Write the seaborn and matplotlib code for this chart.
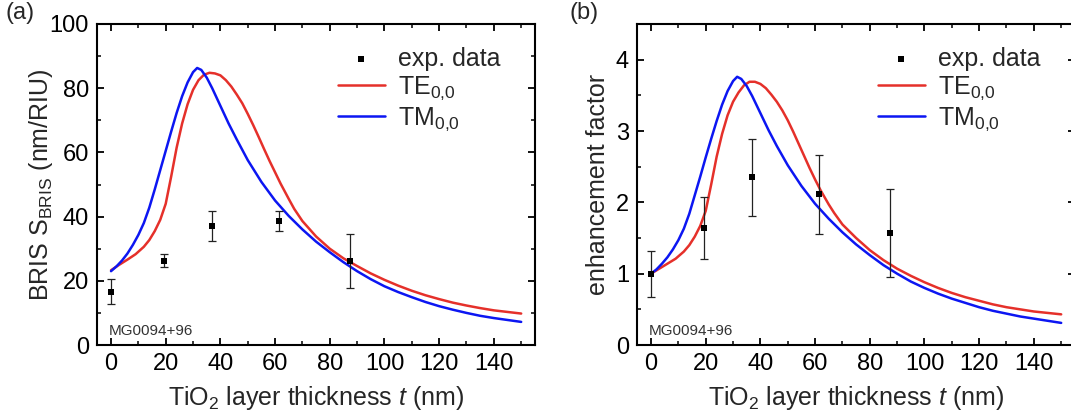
import numpy as np
import pandas as pd
import matplotlib
matplotlib.use("Agg")
import matplotlib.pyplot as plt
from matplotlib.ticker import MultipleLocator
import seaborn as sns

# ---------------- data ----------------
exp_t = [0, 19.5, 37, 61.6, 87.4]
exp_S = [16.6, 26.3, 37.1, 38.7, 26.2]
exp_S_err = [3.9, 2.1, 4.8, 3.2, 8.5]
exp_E = [1.0, 1.64, 2.35, 2.11, 1.57]
exp_E_err = [0.32, 0.43, 0.54, 0.55, 0.61]

te_t = [0, 3, 6, 9, 12, 14, 16, 18, 20, 22, 24, 26, 28, 30, 32, 34, 36, 38, 40, 42, 44, 46,
        48, 50, 52, 54, 56, 58, 60, 62, 65, 67, 70, 75, 80, 85, 90, 95, 100, 105, 110, 115,
        120, 125, 130, 135, 140, 145, 150]
te_S = [23.3, 25.0, 26.6, 28.3, 30.6, 32.7, 35.5, 39.0, 44.0, 52.5, 61.5, 69.0, 75.0, 79.5,
        82.5, 84.2, 84.8, 84.6, 84.0, 82.5, 80.5, 78.0, 75.3, 72.0, 68.5, 64.8, 61.0, 57.3,
        53.8, 50.3, 45.5, 42.4, 38.6, 33.8, 30.0, 27.0, 24.6, 22.3, 20.3, 18.5, 16.9, 15.5,
        14.3, 13.2, 12.3, 11.5, 10.8, 10.3, 9.8]
te_E = [1.0, 1.07, 1.14, 1.21, 1.31, 1.40, 1.52, 1.67, 1.88, 2.25, 2.64, 2.96, 3.22, 3.41,
        3.54, 3.64, 3.69, 3.69, 3.66, 3.60, 3.51, 3.41, 3.29, 3.15, 2.99, 2.82, 2.65, 2.48,
        2.32, 2.17, 1.97, 1.85, 1.69, 1.50, 1.33, 1.19, 1.07, 0.97, 0.88, 0.80, 0.73, 0.67,
        0.62, 0.57, 0.53, 0.50, 0.47, 0.45, 0.43]

tm_t = [0, 2, 4, 6, 8, 10, 12, 14, 16, 18, 20, 22, 24, 26, 28, 30, 31.5, 33, 35, 37, 40, 43,
        46, 50, 55, 60, 65, 70, 75, 80, 85, 90, 95, 100, 105, 110, 115, 120, 125, 130,
        135, 140, 145, 150]
tm_S = [23.0, 24.5, 26.3, 28.5, 31.2, 34.3, 38.0, 42.8, 48.5, 54.5, 60.5, 66.5, 72.3, 77.5,
        81.8, 85.0, 86.3, 85.7, 83.3, 80.0, 74.5, 69.0, 64.0, 57.6, 50.8, 45.0, 40.2, 36.0,
        32.2, 28.9, 25.8, 23.0, 20.5, 18.3, 16.5, 14.9, 13.4, 12.1, 11.0, 10.0, 9.1, 8.4,
        7.8, 7.2]
tm_E = [1.0, 1.06, 1.14, 1.23, 1.34, 1.47, 1.63, 1.84, 2.10, 2.36, 2.63, 2.89, 3.14, 3.37,
        3.56, 3.70, 3.76, 3.73, 3.63, 3.49, 3.25, 3.01, 2.79, 2.52, 2.23, 1.98, 1.77, 1.58,
        1.41, 1.26, 1.12, 1.0, 0.89, 0.80, 0.72, 0.65, 0.59, 0.53, 0.48, 0.44, 0.40, 0.37,
        0.34, 0.31]

xticks = [0, 20, 40, 60, 80, 100, 120, 140]

# ---------------- style ----------------
sns.set_theme(style="ticks")
plt.rcParams["font.family"] = ["Liberation Sans", "DejaVu Sans"]
plt.rcParams["mathtext.fontset"] = "custom"
plt.rcParams["mathtext.rm"] = "Liberation Sans"
plt.rcParams["mathtext.it"] = "Liberation Sans:italic"
plt.rcParams["mathtext.bf"] = "Liberation Sans:bold"

fig = plt.figure(figsize=(10.71, 4.18), dpi=100)
axA = fig.add_axes([0.0909, 0.1746, 0.4085, 0.768])
axB = fig.add_axes([0.5951, 0.1746, 0.4085, 0.768])

RED = "#e5302a"
BLUE = "#0c16f2"

def draw(ax, yS, yerr, te, tm, ylim, ymaj, ymin, ylabel, ylabelpad):
    ax.errorbar(exp_t, yS, yerr=yerr, fmt="none", ecolor="#222222",
                elinewidth=0.9, capsize=3, capthick=0.9, zorder=3)
    sns.scatterplot(x=exp_t, y=yS, ax=ax, marker="s", s=24, color="black",
                    edgecolor="black", linewidth=0, label="exp. data", zorder=4)
    sns.lineplot(x=te_t, y=te, ax=ax, color=RED, lw=1.8, label="TE$_{0{,}0}$",
                 sort=False, zorder=2)
    sns.lineplot(x=tm_t, y=tm, ax=ax, color=BLUE, lw=1.8, label="TM$_{0{,}0}$",
                 sort=False, zorder=2)
    ax.set_xlim(-5, 155)
    ax.set_ylim(*ylim)
    ax.set_xticks(xticks)
    ax.xaxis.set_minor_locator(MultipleLocator(10))
    ax.yaxis.set_major_locator(MultipleLocator(ymaj))
    ax.yaxis.set_minor_locator(MultipleLocator(ymin))
    ax.tick_params(which="both", direction="in", top=True, right=True,
                   labelsize=17, color="black", labelcolor="black", pad=6)
    ax.tick_params(which="major", length=5, width=1.3)
    ax.tick_params(which="minor", length=3, width=1.1)
    for s in ax.spines.values():
        s.set_linewidth(1.5)
        s.set_color("black")
    ax.set_xlabel("TiO$_2$ layer thickness $t$ (nm)", fontsize=18, labelpad=6)
    ax.set_ylabel(ylabel, fontsize=18, labelpad=ylabelpad)
    ax.legend(loc="upper right", bbox_to_anchor=(0.955, 0.975), frameon=False,
              fontsize=18, handlelength=1.9, handletextpad=0.5,
              labelspacing=0.15, borderaxespad=0.2)
    ax.text(-1, 0.022 * (ylim[1] - ylim[0]), "MG0094+96", fontsize=11,
            color="#333333", va="bottom", ha="left")

draw(axA, exp_S, exp_S_err, te_S, tm_S, (0, 100), 20, 10,
     "BRIS S$_{\\mathrm{BRIS}}$ (nm/RIU)", -4)
draw(axB, exp_E, exp_E_err, te_E, tm_E, (0, 4.5), 1, 0.5,
     "enhancement factor", 4)

fig.text(0.005, 0.995, "(a)", fontsize=17, va="top", ha="left")
fig.text(0.532, 0.995, "(b)", fontsize=17, va="top", ha="left")

fig.savefig("out.png", dpi=100)
